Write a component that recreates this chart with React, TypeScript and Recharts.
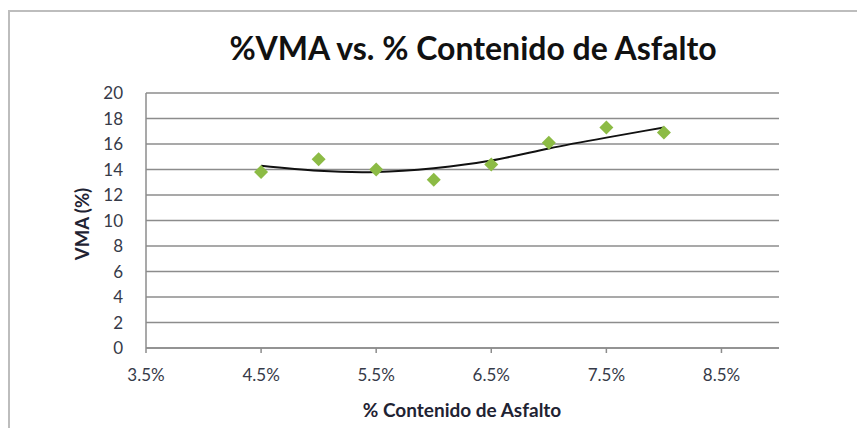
import {
  CartesianGrid,
  ComposedChart,
  Line,
  Scatter,
  XAxis,
  YAxis,
} from "recharts"

const asphaltContent = [4.5, 5.0, 5.5, 6.0, 6.5, 7.0, 7.5, 8.0]
const vmaValues = [13.8, 14.8, 14.0, 13.2, 14.4, 16.1, 17.3, 16.9]
const trendValues = [14.3, 13.9, 13.8, 14.1, 14.7, 15.65, 16.5, 17.3]
const xTicks = [3.5, 4.5, 5.5, 6.5, 7.5, 8.5]
const yTicks = [0, 2, 4, 6, 8, 10, 12, 14, 16, 18, 20]

const FONT = "Lato, 'Open Sans', sans-serif"
const GRID = "#8c8c8c"
const TICK = { fill: "#363a48", fontSize: 17, fontFamily: FONT }

const points = asphaltContent.map((x, i) => ({ x, y: vmaValues[i] }))
const trend = asphaltContent.map((x, i) => ({ x, y: trendValues[i] }))

function Diamond(props: any) {
  const { cx, cy } = props
  if (cx == null || cy == null) return null
  const r = 7
  return (
    <polygon
      points={`${cx},${cy - r} ${cx + r},${cy} ${cx},${cy + r} ${cx - r},${cy}`}
      fill="#8cbb45"
    />
  )
}

export default function App() {
  return (
    <div
      style={{
        position: "relative",
        width: 865,
        height: 436,
        margin: -8,
        background: "#fff",
        fontFamily: FONT,
      }}
    >
      <div
        style={{
          position: "absolute",
          left: 8,
          top: 10,
          right: 0,
          bottom: 0,
          borderTop: "2px solid #bdbdbd",
          borderLeft: "2px solid #bdbdbd",
        }}
      />
      <div
        style={{
          position: "absolute",
          left: 0,
          width: 946,
          top: 29,
          textAlign: "center",
          fontSize: 32,
          fontWeight: 700,
          color: "#111",
          lineHeight: "38px",
        }}
      >
        %VMA vs. % Contenido de Asfalto
      </div>
      <div
        style={{
          position: "absolute",
          left: 82,
          top: 224,
          transform: "translate(-50%, -50%) rotate(-90deg)",
          fontSize: 18.5,
          fontWeight: 700,
          color: "#1f2333",
          whiteSpace: "nowrap",
        }}
      >
        VMA (%)
      </div>
      <div
        style={{
          position: "absolute",
          left: 0,
          width: 924,
          top: 398,
          textAlign: "center",
          fontSize: 19,
          fontWeight: 700,
          color: "#1f2333",
          lineHeight: "24px",
        }}
      >
        % Contenido de Asfalto
      </div>
      <div style={{ position: "absolute", left: 0, top: 0 }}>
        <ComposedChart
          width={865}
          height={436}
          margin={{ top: 93, right: 86, bottom: 58, left: 56 }}
        >
          <CartesianGrid vertical={false} stroke={GRID} strokeWidth={1.5} />
          <XAxis
            type="number"
            dataKey="x"
            domain={[3.5, 9]}
            ticks={xTicks}
            interval={0}
            allowDataOverflow
            height={30}
            tickFormatter={(v: number) => `${v.toFixed(1)}%`}
            tick={TICK}
            axisLine={{ stroke: GRID, strokeWidth: 1.5 }}
            tickLine={{ stroke: GRID, strokeWidth: 1.5 }}
            tickSize={5}
            tickMargin={16}
          />
          <YAxis
            type="number"
            dataKey="y"
            domain={[0, 20]}
            ticks={yTicks}
            interval={0}
            width={90}
            tick={TICK}
            axisLine={{ stroke: GRID, strokeWidth: 1.5 }}
            tickLine={false}
            tickSize={0}
            tickMargin={23}
          />
          <Line
            data={trend}
            dataKey="y"
            type="natural"
            stroke="#111"
            strokeWidth={2}
            dot={false}
            activeDot={false}
            isAnimationActive={false}
          />
          <Scatter
            data={points}
            dataKey="y"
            shape={<Diamond />}
            isAnimationActive={false}
          />
        </ComposedChart>
      </div>
    </div>
  )
}
